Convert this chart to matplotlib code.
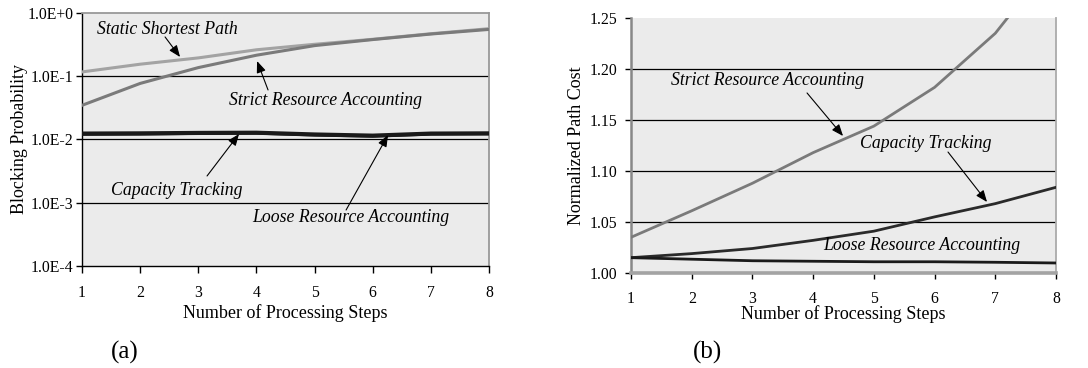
import matplotlib
matplotlib.use("Agg")
import matplotlib.pyplot as plt

# ---------------- data ----------------
steps = [1, 2, 3, 4, 5, 6, 7, 8]

# (a) blocking probability
block_static = [0.117, 0.155, 0.195, 0.262, 0.320, 0.384, 0.470, 0.565]
block_strict = [0.0347, 0.077, 0.137, 0.215, 0.305, 0.380, 0.465, 0.550]
block_capacity = [0.0124, 0.0125, 0.0127, 0.0128, 0.0120, 0.0115, 0.0124, 0.0125]
block_loose = [0.0121, 0.0122, 0.0125, 0.0126, 0.0118, 0.0113, 0.0122, 0.0123]
block_ticks = [1e-4, 1e-3, 1e-2, 1e-1, 1e0]
block_ticklabels = ["1.0E-4", "1.0E-3", "1.0E-2", "1.0E-1", "1.0E+0"]

# (b) normalized path cost
cost_static = [1.0, 1.0, 1.0, 1.0, 1.0, 1.0, 1.0, 1.0]
cost_strict = [1.035, 1.061, 1.088, 1.118, 1.144, 1.182, 1.235, 1.31]
cost_capacity = [1.015, 1.019, 1.024, 1.032, 1.041, 1.055, 1.068, 1.084]
cost_loose = [1.015, 1.0135, 1.012, 1.0115, 1.011, 1.011, 1.0105, 1.0098]
cost_ticks = [1.00, 1.05, 1.10, 1.15, 1.20, 1.25]
cost_ticklabels = ["1.00", "1.05", "1.10", "1.15", "1.20", "1.25"]

xlabel = "Number of Processing Steps"

plt.rcParams["font.family"] = ["Liberation Serif", "DejaVu Serif"]
plt.rcParams["mathtext.fontset"] = "stix"

fig = plt.figure(figsize=(10.88, 3.68), dpi=100)
bg = "#ebebeb"
tick_fs = 11.3
lab_fs = 13
ann_fs = 12.8

arrow_kw = dict(arrowstyle="-|>,head_length=0.5,head_width=0.2", color="black",
                lw=0.8, mutation_scale=14, shrinkA=0, shrinkB=0)

# ---------------- (a) ----------------
ax1 = fig.add_axes([0.0754, 0.2772, 0.3741, 0.6875])
ax1.set_facecolor(bg)
ax1.set_yscale("log")
ax1.set_xlim(1, 8)
ax1.set_ylim(1e-4, 1e0)
for t in block_ticks[1:-1]:
    ax1.axhline(t, color="black", lw=0.9, zorder=1)
ax1.plot(steps, block_static, color="#a3a3a3", lw=2.2, zorder=3)
ax1.plot(steps, block_strict, color="#7a7a7a", lw=2.2, zorder=3)
ax1.plot(steps, block_loose, color="#1a1a1a", lw=2.2, zorder=4)
ax1.plot(steps, block_capacity, color="#1a1a1a", lw=3.0, zorder=4)
ax1.set_yticks(block_ticks)
ax1.set_yticklabels(block_ticklabels)
ax1.minorticks_off()
ax1.set_xticks(steps)
ax1.tick_params(axis="x", direction="out", length=5, width=1, pad=9, labelsize=tick_fs)
ax1.tick_params(axis="y", direction="out", length=4, width=1, pad=2, labelsize=tick_fs)
ax1.spines["left"].set_color("black")
ax1.spines["bottom"].set_color("black")
ax1.spines["left"].set_linewidth(1.0)
ax1.spines["bottom"].set_linewidth(1.0)
ax1.spines["top"].set_color("#999999")
ax1.spines["right"].set_color("#999999")
ax1.spines["top"].set_linewidth(1.3)
ax1.spines["right"].set_linewidth(1.3)
ax1.set_xlabel(xlabel, fontsize=lab_fs)
ax1.set_ylabel("Blocking Probability", fontsize=lab_fs)
ax1.xaxis.set_label_coords(0.5, -0.150)
ax1.xaxis.label.set_va("top")
ax1.yaxis.set_label_coords(-0.132, 0.5)

ax1.text(1.258, 0.558, "Static Shortest Path", style="italic", fontsize=ann_fs,
         ha="left", va="center", zorder=6)
ax1.annotate("", xy=(2.686, 0.2015), xytext=(2.428, 0.418), arrowprops=arrow_kw, zorder=6)
ax1.text(3.528, 0.0421, "Strict Resource Accounting", style="italic", fontsize=ann_fs,
         ha="left", va="center", zorder=6)
ax1.annotate("", xy=(4.010, 0.174), xytext=(4.199, 0.0607), arrowprops=arrow_kw, zorder=6)
ax1.text(1.499, 0.00155, "Capacity Tracking", style="italic", fontsize=ann_fs,
         ha="left", va="center", zorder=6)
ax1.annotate("", xy=(3.700, 0.01222), xytext=(3.150, 0.00265), arrowprops=arrow_kw, zorder=6)
ax1.text(3.924, 0.000574, "Loose Resource Accounting", style="italic", fontsize=ann_fs,
         ha="left", va="center", zorder=6)
ax1.annotate("", xy=(6.263, 0.01178), xytext=(5.541, 0.000767), arrowprops=arrow_kw, zorder=6)

fig.text(125 / 1088, 1 - 352 / 368, "(a)", fontsize=18, ha="center", va="center")

# ---------------- (b) ----------------
ax2 = fig.add_axes([0.5800, 0.2582, 0.3906, 0.6929])
ax2.set_facecolor(bg)
ax2.set_xlim(1, 8)
ax2.set_ylim(1.0, 1.25)
for t in cost_ticks[1:-1]:
    ax2.axhline(t, color="black", lw=0.9, zorder=1)
ax2.plot(steps, cost_static, color="#a3a3a3", lw=2.6, zorder=3, clip_on=False)
ax2.plot(steps, cost_strict, color="#7a7a7a", lw=2.0, zorder=3)
ax2.plot(steps, cost_capacity, color="#2a2a2a", lw=2.0, zorder=4)
ax2.plot(steps, cost_loose, color="#1a1a1a", lw=2.0, zorder=4)
ax2.set_yticks(cost_ticks)
ax2.set_yticklabels(cost_ticklabels)
ax2.set_xticks(steps)
ax2.tick_params(axis="x", direction="out", length=4, width=1, pad=9, labelsize=tick_fs)
ax2.tick_params(axis="y", direction="out", length=4, width=1, pad=6, labelsize=tick_fs)
ax2.spines["left"].set_color("#888888")
ax2.spines["left"].set_linewidth(1.8)
ax2.spines["bottom"].set_color("#a3a3a3")
ax2.spines["bottom"].set_linewidth(1.5)
ax2.spines["top"].set_visible(False)
ax2.spines["right"].set_color("#aaaaaa")
ax2.spines["right"].set_linewidth(1.3)
ax2.set_xlabel(xlabel, fontsize=lab_fs)
ax2.set_ylabel("Normalized Path Cost", fontsize=lab_fs)
ax2.xaxis.set_label_coords(0.5, -0.125)
ax2.xaxis.label.set_va("top")
ax2.yaxis.set_label_coords(-0.108, 0.5)

ax2.text(1.659, 1.189, "Strict Resource Accounting", style="italic", fontsize=ann_fs,
         ha="left", va="center", zorder=6)
ax2.annotate("", xy=(4.492, 1.1343), xytext=(3.899, 1.1765), arrowprops=arrow_kw, zorder=6)
ax2.text(4.772, 1.1265, "Capacity Tracking", style="italic", fontsize=ann_fs,
         ha="left", va="center", zorder=6)
ax2.annotate("", xy=(6.864, 1.0696), xytext=(6.221, 1.1186), arrowprops=arrow_kw, zorder=6)
ax2.text(4.163, 1.0265, "Loose Resource Accounting", style="italic", fontsize=ann_fs,
         ha="left", va="center", zorder=6)

fig.text(707 / 1088, 1 - 352 / 368, "(b)", fontsize=18, ha="center", va="center")

fig.savefig("out.png", dpi=100)
